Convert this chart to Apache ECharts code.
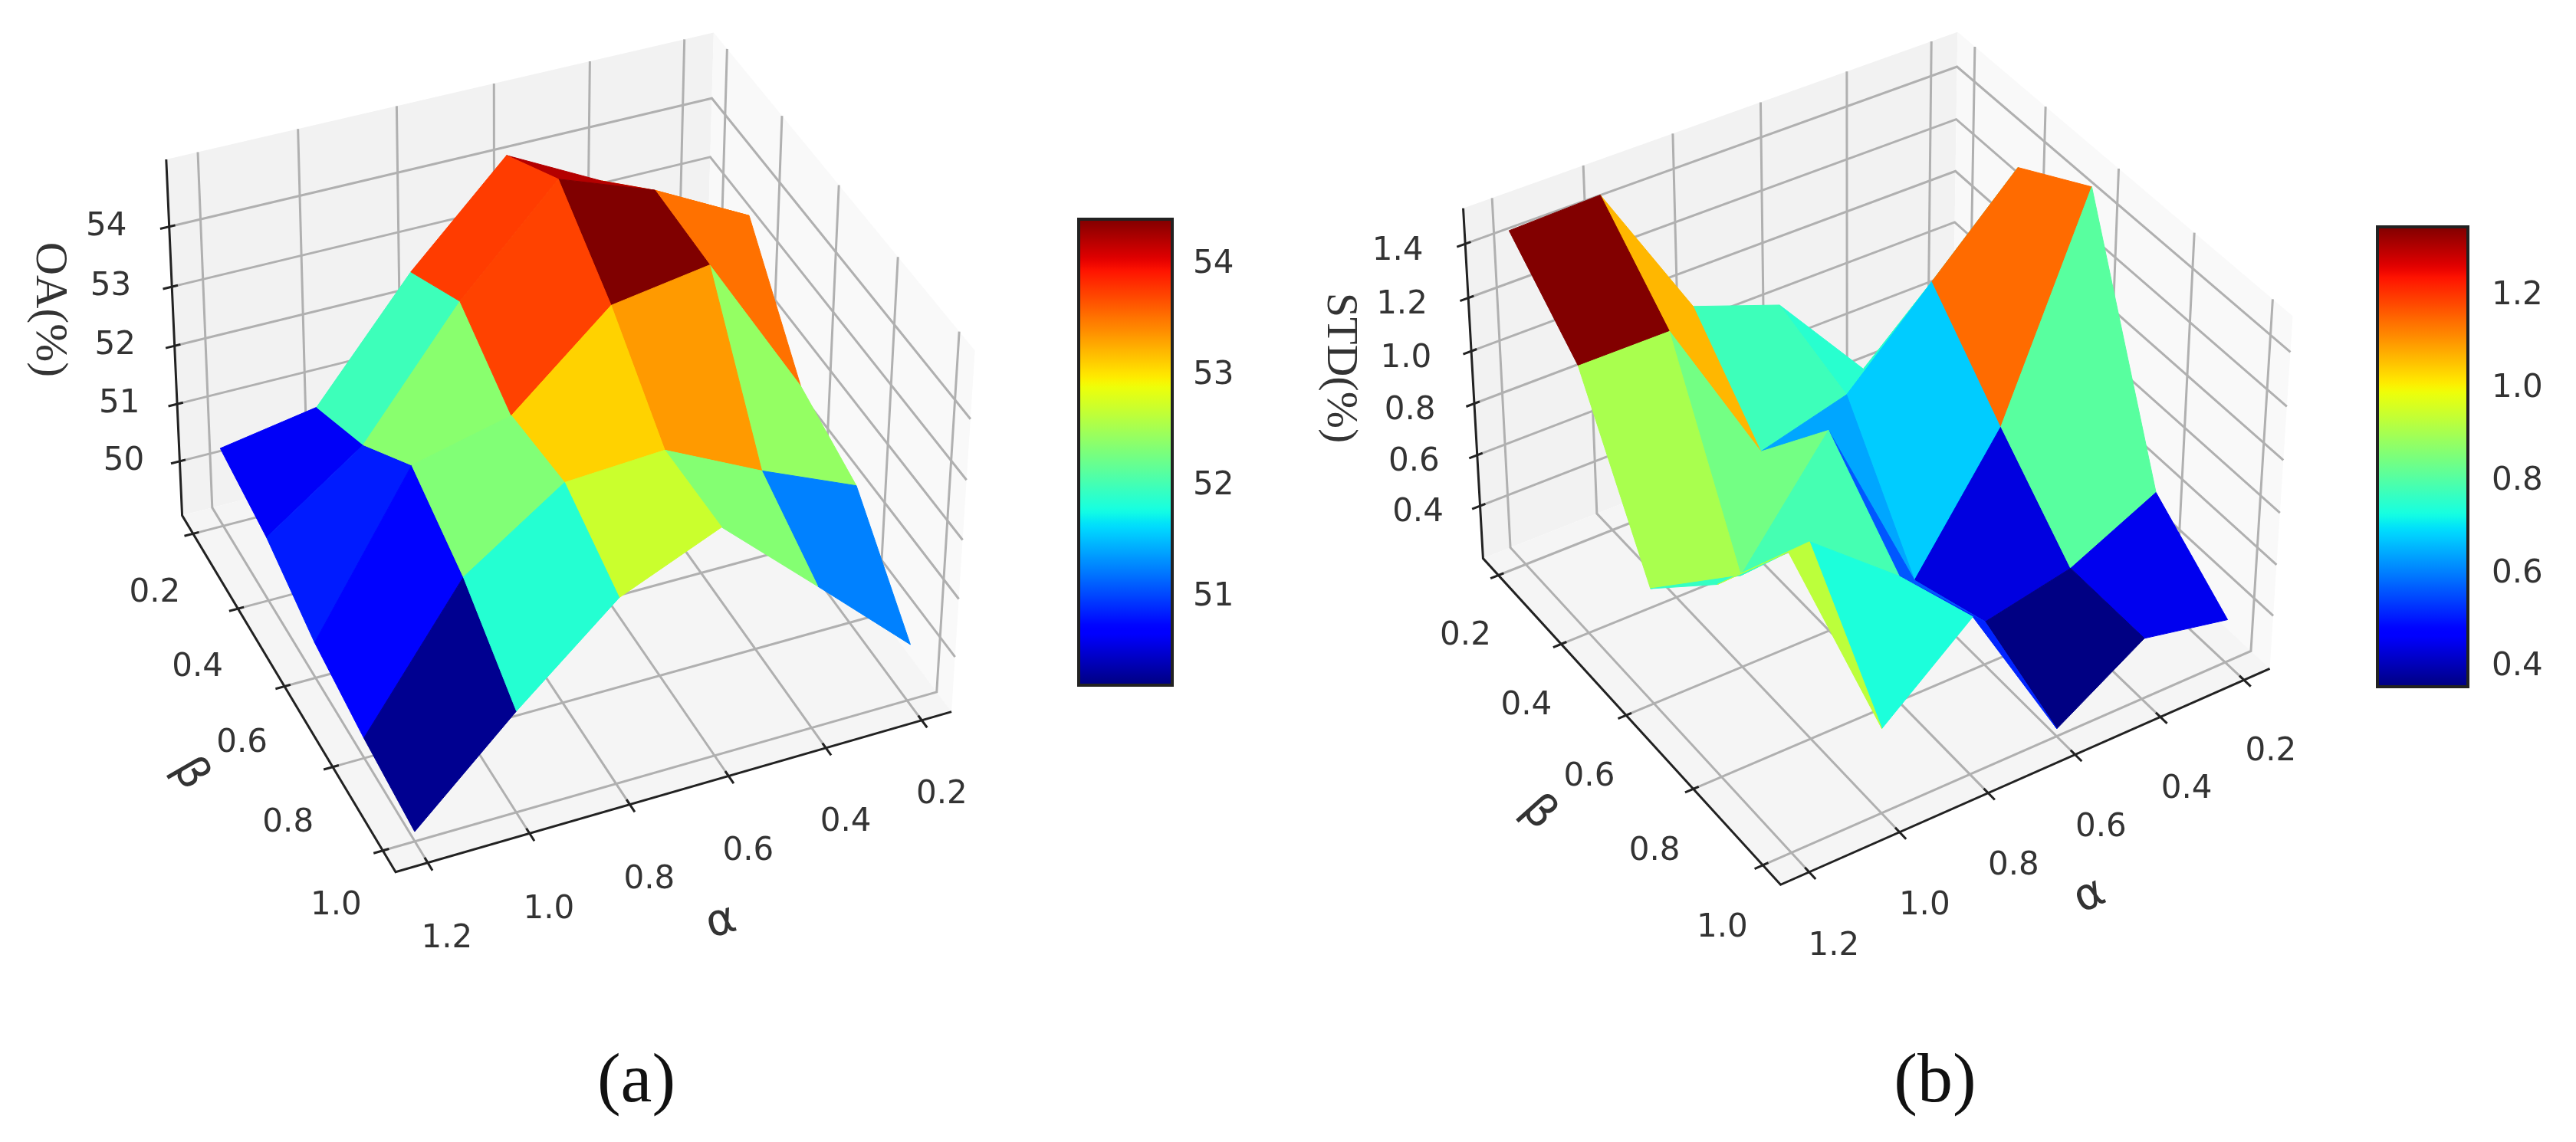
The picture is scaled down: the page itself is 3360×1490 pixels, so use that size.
<!DOCTYPE html>
<html><head><meta charset="utf-8"><style>html,body{margin:0;background:#fff}#c{width:3360px;height:1490px}</style>
<script src="https://cdn.jsdelivr.net/npm/echarts@6/dist/echarts.min.js"></script></head><body><div id="c"></div>
<script>
const alphaTicks=[1.2,1.0,0.8,0.6,0.4,0.2];
const betaTicks=[0.2,0.4,0.6,0.8,1.0];
const oaTicks=[50,51,52,53,54];
const stdTicks=[0.4,0.6,0.8,1.0,1.2,1.4];
const stdBarTicks=[0.4,0.6,0.8,1.0,1.2];
// one row per alpha (1.2 ... 0.2), one column per beta (0.2 ... 1.0)
const oaValues=[[50.41,50.15,49.66,49.39,49.21],[50.70,51.31,52.24,51.67,50.78],[52.62,53.32,52.64,52.80,52.21],[54.19,54.94,54.05,52.90,52.92],[53.38,54.37,54.31,52.12,51.48],[52.65,53.56,51.87,51.43,50.02]];
const stdValues=[[1.47,1.22,0.64,0.93,1.32],[1.48,1.22,0.55,0.95,0.52],[0.94,0.63,0.97,0.68,0.80],[0.82,0.72,0.25,0.36,0.22],[0.44,1.03,0.72,0.43,0.43],[0.42,1.34,1.50,0.59,0.36]];
const cbarA=[50.205,54.41],cbarB=[0.357,1.349];
const aL=0.1375,aH=1.2625,bL=0.15,bH=1.05;
// view calibration: box limits and where known box points sit on the canvas
function calA(){const z0=49.04,z1=55.1;return {z0,z1,pts:[[aH,bH,z0,514,1138],[aH,bL,z0,242,673],[aL,bH,z0,1243,931],[aH,bL,z1,216,210],[aL,bL,z1,930,42],[aL,bH,z1,1273,458],
[aH,bL,54,220,295],[aH,bL,53,222,371],[aH,bL,52,224,450],[aH,bL,51,226,524],[aH,bL,50,230,600],
[aL,bH,54,1267,545],[aL,bH,53,1263,625],[aL,bH,52,1257,705],[aL,bH,51,1252,782],[aL,bH,50,1247,856],
[aL,bL,54,929,125],[aL,bL,53,929,203],[aL,1,z0,1221,900],[aL,1,z1,1248,433],[1.2,bH,z0,562,1124],[.2,bH,z0,1194,943],[aH,1,z0,498,1110],[aH,.2,z0,259,702],[1.2,bL,z1,264,201],[.2,bL,z1,887,54],[aL,.2,z1,952,67]]};}
function calB(){const z0=0.19,z1=1.53;return {z0,z1,pts:[[aH,bH,z0,2322,1157],[aH,bL,z0,1936,729],[aL,bH,z0,2963,874],[aH,bL,z1,1909,271],[aL,bL,z1,2552,42],[aL,bH,z1,2993,414],
[aH,bL,1.4,1912,318],[aH,bL,1.2,1914,389],[aH,bL,1,1917,460],[aH,bL,.8,1920,528],[aH,bL,.6,1924,593],[aH,bL,.4,1930,658],
[aL,bH,1.4,2989,458],[aL,bH,1.2,2983,530],[aL,bH,1,2979,600],[aL,bH,.8,2974,670],[aL,bH,.6,2970,737],[aL,bH,.4,2965,804],
[aL,bL,1.4,2552,85],[aL,bL,1.2,2552,154],[aL,bL,1,2552,222],[aL,bL,.8,2552,288],[1.2,bH,z0,2367,1137],[.2,bH,z0,2923,889],[aH,1,z0,2293,1125],[aH,.2,z0,1958,753],[aL,1,z0,2934,847],[aL,1,z1,2961,389],[1.2,bL,z1,1950,257],[.2,bL,z1,2514,56],[aL,.2,z1,2579,65]]};}
function fit(c){const n=11,A=Array.from({length:n},()=>Array(n+1).fill(0));
 const N=(a,b,z)=>[(a-aL)/(aH-aL),(b-bL)/(bH-bL),(z-c.z0)/(c.z1-c.z0)];
 const add=(r,y)=>{for(let i=0;i<n;i++){for(let j=0;j<n;j++)A[i][j]+=r[i]*r[j];A[i][n]+=r[i]*y;}};
 c.pts.forEach(p=>{const [X,Y,Z]=N(p[0],p[1],p[2]),u=p[3]/1000,v=p[4]/1000;add([X,Y,Z,1,0,0,0,0,-u*X,-u*Y,-u*Z],u);add([0,0,0,0,X,Y,Z,1,-v*X,-v*Y,-v*Z],v);});
 for(let i=0;i<n;i++){let m=i;for(let k=i+1;k<n;k++)if(Math.abs(A[k][i])>Math.abs(A[m][i]))m=k;[A[i],A[m]]=[A[m],A[i]];
  for(let k=0;k<n;k++)if(k!==i){const f=A[k][i]/A[i][i];for(let j=i;j<=n;j++)A[k][j]-=f*A[i][j];}}
 const p=A.map((r,i)=>r[n]/r[i]);
 return (a,b,z)=>{const [X,Y,Z]=N(a,b,z),w=p[8]*X+p[9]*Y+p[10]*Z+1;return [(p[0]*X+p[1]*Y+p[2]*Z+p[3])/w*1000,(p[4]*X+p[5]*Y+p[6]*Z+p[7])/w*1000,w];};}
const cA=calA(),cB=calB(),PA=fit(cA),PB=fit(cB);
const LABEL='#333',AXIS='#222',FONT='"DejaVu Sans"',SERIF='"Liberation Serif"';
const lerp=(a,b,t)=>[a[0]+(b[0]-a[0])*t,a[1]+(b[1]-a[1])*t];
function boxSeries(o){const P=o.P,{z0,z1}=o.c;return {type:'custom',xAxisIndex:0,yAxisIndex:0,z:1,silent:true,clip:false,data:[[0,0]],renderItem(p,api){
 const pt=q=>{const r=P(q[0],q[1],q[2]);return api.coord([r[0],r[1]]);};
 const poly=(pts,f)=>({type:'polygon',shape:{points:pts.map(pt)},style:{fill:f}});
 const line=(pts,st)=>({type:'polyline',shape:{points:pts.map(pt)},style:st});
 const txt=(s,xy,font,rot)=>({type:'text',x:xy[0],y:xy[1],rotation:(rot||0)*Math.PI/180,style:{text:s,font,fill:LABEL,align:'center',verticalAlign:'middle'}});
 const g={stroke:'#b0b0b0',lineWidth:3,fill:null},ax={stroke:AXIS,lineWidth:3,fill:null};const ch=[];
 ch.push(poly([[aH,bL,z0],[aL,bL,z0],[aL,bL,z1],[aH,bL,z1]],'#f2f2f2'),poly([[aL,bL,z0],[aL,bH,z0],[aL,bH,z1],[aL,bL,z1]],'#f9f9f9'),poly([[aH,bL,z0],[aL,bL,z0],[aL,bH,z0],[aH,bH,z0]],'#f5f5f5'));
 alphaTicks.forEach(a=>ch.push(line([[a,bH,z0],[a,bL,z0],[a,bL,z1]],g)));
 betaTicks.forEach(b=>ch.push(line([[aH,b,z0],[aL,b,z0],[aL,b,z1]],g)));
 o.zTicks.forEach(z=>ch.push(line([[aH,bL,z],[aL,bL,z],[aL,bH,z]],g)));
 ch.push(line([[aL,bH,z0],[aH,bH,z0],[aH,bL,z0],[aH,bL,z1]],ax));
 alphaTicks.forEach((a,i)=>{ch.push(line([[a,bH-.012,z0],[a,bH+.018,z0]],ax));const q=pt([a,bH,z0]),d=lerp(o.aOff[0],o.aOff[1],i/(alphaTicks.length-1));ch.push(txt(a.toFixed(1),[q[0]+d[0],q[1]+d[1]],'42px '+FONT));});
 betaTicks.forEach((b,i)=>{ch.push(line([[aH-.012,b,z0],[aH+.018,b,z0]],ax));const q=pt([aH,b,z0]),d=lerp(o.bOff[0],o.bOff[1],i/(betaTicks.length-1));ch.push(txt(b.toFixed(1),[q[0]+d[0],q[1]+d[1]],'42px '+FONT));});
 o.zTicks.forEach((z,i)=>{ch.push(line([[aH-.012,bL,z],[aH+.018,bL,z]],ax));const q=pt([aH,bL,z]),d=lerp(o.zOff[0],o.zOff[1],i/(o.zTicks.length-1));ch.push(txt(z.toFixed(o.zDec),[q[0]+d[0],q[1]+d[1]],'42px '+FONT));});
 ch.push(txt('α',o.aTitle,'58px '+FONT,o.aRot),txt('β',o.bTitle,'58px '+FONT,o.bRot),txt(o.zTitle,o.zPos,o.zSize+'px '+SERIF,-90));
 return {type:'group',children:ch};}};}
function surf(P,Z){const items=[];for(let i=0;i<5;i++)for(let j=0;j<4;j++){const q=[[i,j],[i+1,j],[i+1,j+1],[i,j+1]];const m=q.reduce((s,k)=>s+Z[k[0]][k[1]],0)/4;const d=q.reduce((s,k)=>s+P(alphaTicks[k[0]],betaTicks[k[1]],Z[k[0]][k[1]])[2],0)/4;items.push([m,i,j,d]);}
 items.sort((a,b)=>b[3]-a[3]);return {type:'custom',xAxisIndex:0,yAxisIndex:0,z:2,silent:true,clip:false,data:items,renderItem(p,api){const i=api.value(1),j=api.value(2);const q=[[i,j],[i+1,j],[i+1,j+1],[i,j+1]];const col=api.visual('color');return {type:'polygon',shape:{points:q.map(k=>{const r=P(alphaTicks[k[0]],betaTicks[k[1]],Z[k[0]][k[1]]);return api.coord([r[0],r[1]]);})},style:{fill:col,stroke:col,lineWidth:1}};}};}
const jet=[];for(let k=0;k<=64;k++){const x=k/64,l=(pts)=>{for(let i=1;i<pts.length;i++)if(x<=pts[i][0])return pts[i-1][1]+(pts[i][1]-pts[i-1][1])*(x-pts[i-1][0])/(pts[i][0]-pts[i-1][0]);};
 jet.push('rgb('+[l([[0,0],[.35,0],[.66,1],[.89,1],[1,.5]]),l([[0,0],[.125,0],[.375,1],[.64,1],[.91,0],[1,0]]),l([[0,.5],[.11,1],[.34,1],[.65,0],[1,0]])].map(v=>Math.round(v*255)).join(',')+')');}
function cbarAxis(i,r,vals,dec,margin){return {type:'value',gridIndex:i,position:'right',min:r[0],max:r[1],splitLine:{show:false},axisLine:{show:false},
 axisTick:{show:true,length:17,customValues:vals,lineStyle:{color:AXIS,width:3}},axisLabel:{margin,fontSize:42,fontFamily:'DejaVu Sans',color:LABEL,customValues:vals,formatter:v=>(+v).toFixed(dec)}};}
const capStyle={fontFamily:'Liberation Serif',fontSize:92,fontWeight:'normal',color:'#111'};
const ch=echarts.init(document.getElementById('c'));
ch.setOption({animation:false,backgroundColor:'#fff',
title:[{text:'(a)',left:825,top:1408,textAlign:'center',textVerticalAlign:'middle',textStyle:capStyle},{text:'(b)',left:2519,top:1408,textAlign:'center',textVerticalAlign:'middle',textStyle:capStyle}],
grid:[{left:0,top:0,right:0,bottom:0},{left:1407,top:286,width:122,height:608,show:true,z:10,backgroundColor:'transparent',borderColor:'#222',borderWidth:4},{left:3101,top:296,width:118,height:600,show:true,z:10,backgroundColor:'transparent',borderColor:'#222',borderWidth:4}],
xAxis:[{type:'value',min:0,max:3360,show:false},{type:'value',gridIndex:1,show:false,min:0,max:1},{type:'value',gridIndex:2,show:false,min:0,max:1}],
yAxis:[{type:'value',min:0,max:1490,inverse:true,show:false},cbarAxis(1,cbarA,oaTicks,0,27),cbarAxis(2,cbarB,stdBarTicks,1,31)],
visualMap:[{type:'continuous',seriesIndex:1,dimension:0,min:cbarA[0],max:cbarA[1],left:1407,top:286,itemWidth:122,itemHeight:608,padding:0,inRange:{color:jet},calculable:false,hoverLink:false},{type:'continuous',seriesIndex:3,dimension:0,min:cbarB[0],max:cbarB[1],left:3101,top:296,itemWidth:118,itemHeight:600,padding:0,inRange:{color:jet},calculable:false,hoverLink:false}],
series:[boxSeries({P:PA,c:cA,zTicks:oaTicks,zDec:0,aOff:[[25,100],[26,97]],bOff:[[-50,78],[-61,72]],zOff:[[-73,0],[-82,0]],aTitle:[941,1204],aRot:16,bTitle:[247,1010],bRot:-60,zTitle:'OA(%)',zPos:[64,404],zSize:60}),surf(PA,oaValues),
boxSeries({P:PB,c:cB,zTicks:stdTicks,zDec:1,aOff:[[32,97],[35,94]],bOff:[[-43,80],[-53,82]],zOff:[[-81,9],[-88,10]],aTitle:[2726,1170],aRot:24,bTitle:[2006,1061],bRot:-48,zTitle:'STD(%)',zPos:[1747,480],zSize:58}),surf(PB,stdValues)]});
</script></body></html>
